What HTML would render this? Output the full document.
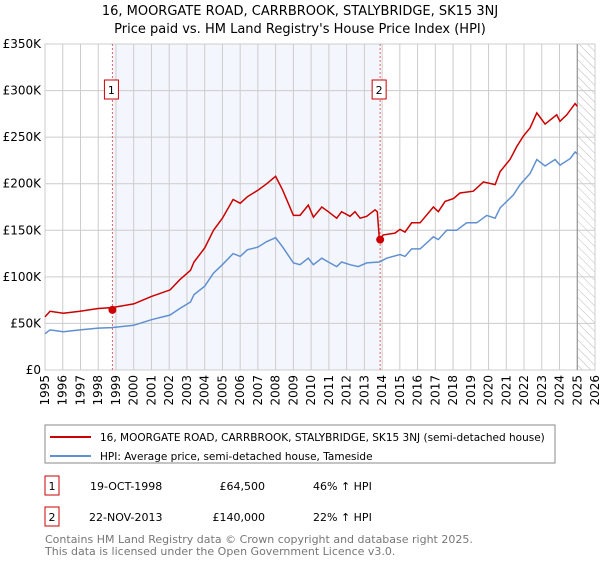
<!DOCTYPE html>
<html><head><meta charset="utf-8"><style>
body{margin:0;background:#fff;font-family:"DejaVu Sans","Liberation Sans",sans-serif;}
svg text{font-family:"DejaVu Sans","Liberation Sans",sans-serif;}
</style></head><body>
<svg id="chart" width="600" height="560" viewBox="0 0 600 560">
<defs><pattern id="hatch" width="6" height="6" patternUnits="userSpaceOnUse" patternTransform="rotate(-45)"><line x1="0" y1="0" x2="0" y2="6" stroke="#bbb" stroke-width="1"/></pattern></defs>
<text x="300" y="15" text-anchor="middle" font-size="13" fill="#000">16, MOORGATE ROAD, CARRBROOK, STALYBRIDGE, SK15 3NJ</text>
<text x="300" y="33" text-anchor="middle" font-size="13" fill="#000">Price paid vs. HM Land Registry's House Price Index (HPI)</text>
<g id="plot"></g>
<rect x="45" y="425" width="510" height="38" fill="#fff" stroke="#888"/>
<line x1="50" y1="437" x2="91" y2="437" stroke="#cc0000" stroke-width="2"/>
<text x="100" y="441" font-size="10.5">16, MOORGATE ROAD, CARRBROOK, STALYBRIDGE, SK15 3NJ (semi-detached house)</text>
<line x1="50" y1="456" x2="91" y2="456" stroke="#6090d0" stroke-width="2"/>
<text x="100" y="460" font-size="10.5">HPI: Average price, semi-detached house, Tameside</text>
<rect x="45" y="476" width="14" height="19" fill="#fff" stroke="#cc0000"/>
<text x="52" y="490" font-size="11" text-anchor="middle">1</text>
<text x="90" y="490" font-size="11">19-OCT-1998</text>
<text x="265" y="490" font-size="11" text-anchor="end">£64,500</text>
<text x="313" y="490" font-size="11">46% ↑ HPI</text>
<rect x="45" y="507" width="14" height="19" fill="#fff" stroke="#cc0000"/>
<text x="52" y="521" font-size="11" text-anchor="middle">2</text>
<text x="89" y="521" font-size="11">22-NOV-2013</text>
<text x="265" y="521" font-size="11" text-anchor="end">£140,000</text>
<text x="313" y="521" font-size="11">22% ↑ HPI</text>
<text x="45" y="543" font-size="11" fill="#777">Contains HM Land Registry data © Crown copyright and database right 2025.</text>
<text x="45" y="555" font-size="11" fill="#777">This data is licensed under the Open Government Licence v3.0.</text>
</svg>
<script>
const priceYears=[1995.0,1995.28,1996.03,1996.97,1998.0,1998.76,2000.0,2001.0,2002.05,2002.6,2003.2,2003.4,2004.0,2004.5,2005.0,2005.6,2006.0,2006.4,2007.0,2007.5,2008.0,2008.4,2009.0,2009.37,2009.84,2010.13,2010.6,2010.97,2011.44,2011.72,2012.19,2012.47,2012.76,2013.13,2013.6,2013.73,2013.85,2014.07,2014.73,2015.01,2015.29,2015.67,2016.14,2016.89,2017.17,2017.55,2018.02,2018.39,2019.14,2019.71,2020.37,2020.65,2021.21,2021.59,2021.96,2022.34,2022.72,2023.19,2023.84,2024.03,2024.41,2024.88,2025.0];
const priceValues=[57,63,61,63,66,67,71,79,86,97,107,116,131,150,163,183,179,186,193,200,208,193,166,166,177,164,175,170,163,170,165,170,163,165,172,170,140,145,147,151,148,158,158,175,170,181,184,190,192,202,199,213,226,240,251,260,276,264,274,267,274,286,283];
const hpiYears=[1995.0,1995.28,1996.03,1996.97,1998.0,1998.76,2000.0,2001.0,2002.05,2002.6,2003.2,2003.4,2004.0,2004.5,2005.0,2005.6,2006.0,2006.4,2007.0,2007.5,2008.0,2008.4,2009.0,2009.37,2009.84,2010.13,2010.6,2010.97,2011.44,2011.72,2012.19,2012.66,2013.13,2013.85,2014.26,2015.01,2015.29,2015.67,2016.14,2016.89,2017.17,2017.64,2018.2,2018.77,2019.33,2019.9,2020.37,2020.65,2021.4,2021.78,2022.34,2022.72,2023.19,2023.75,2024.03,2024.6,2024.88,2025.0];
const hpiValues=[39,43,41,43,45,45.5,48,54,59,66,73,81,90,104,113,125,122,129,132,138,142,132,115,113,120,113,120,116,111,116,113,111,115,116,120,124,122,130,130,143,140,150,150,158,158,166,163,174,188,199,211,226,219,226,220,227,234,232];
const yTicks=[0,50,100,150,200,250,300,350];
const yTickLabels=["£0","£50K","£100K","£150K","£200K","£250K","£300K","£350K"];
const xTickYears=[1995,1996,1997,1998,1999,2000,2001,2002,2003,2004,2005,2006,2007,2008,2009,2010,2011,2012,2013,2014,2015,2016,2017,2018,2019,2020,2021,2022,2023,2024,2025,2026];
const saleYears=[1998.8,2013.89];
const saleValues=[64.5,140];
const saleLabels=["1","2"];
const dataEndYear=2025.0;

const L=45,R=595,T=44,B=370,X0=1995,X1=2026,YMAX=350;
const xs=y=>L+(y-X0)/(X1-X0)*(R-L);
const ys=v=>B-v/YMAX*(B-T);
const NS="http://www.w3.org/2000/svg";
const g=document.getElementById('plot');
function mk(tag,attrs){const e=document.createElementNS(NS,tag);for(const k in attrs)e.setAttribute(k,attrs[k]);g.appendChild(e);return e;}

let e=mk('rect',{x:xs(saleYears[0]),y:T,width:xs(saleYears[1])-xs(saleYears[0]),height:B-T,fill:'#f3f6fd'});


e=mk('rect',{x:xs(dataEndYear),y:T,width:R-xs(dataEndYear),height:B-T,fill:'url(#hatch)'});


yTicks.forEach((v,i)=>{
  let l=mk('line',{x1:L,x2:R,y1:ys(v),y2:ys(v),stroke:'#ccc','stroke-width':1});
  
  
  let t=mk('text',{x:L-4,y:ys(v)+4,'text-anchor':'end','font-size':12});
  t.textContent=yTickLabels[i];
  
  
});
xTickYears.forEach(yr=>{
  let l=mk('line',{x1:xs(yr),x2:xs(yr),y1:T,y2:B,stroke:'#ccc','stroke-width':1});
  
  
  let t=mk('text',{x:0,y:0,'text-anchor':'end','font-size':12,transform:`translate(${xs(yr)+4},${B+5}) rotate(-90)`});
  t.textContent=yr;
  
  
});
e=mk('rect',{x:L,y:T,width:R-L,height:B-T,fill:'none',stroke:'#ccc'});


e=mk('line',{x1:xs(dataEndYear),x2:xs(dataEndYear),y1:T,y2:B,stroke:'#888','stroke-width':1});


saleYears.forEach((yr,i)=>{
  let l=mk('line',{x1:xs(yr),x2:xs(yr),y1:T,y2:B,stroke:'#e06060','stroke-width':1,'stroke-dasharray':'2,2'});
  
  
});
const pts=(xa,va)=>xa.map((y,i)=>xs(y).toFixed(1)+','+ys(va[i]).toFixed(1)).join(' ');
e=mk('polyline',{points:pts(hpiYears,hpiValues),fill:'none',stroke:'#6090d0','stroke-width':1.5});


e=mk('polyline',{points:pts(priceYears,priceValues),fill:'none',stroke:'#cc0000','stroke-width':1.5});


saleYears.forEach((yr,i)=>{
  let c=mk('circle',{cx:xs(yr),cy:ys(saleValues[i]),r:4,fill:'#cc0000'});
  
  
  let r=mk('rect',{x:xs(yr)-8,y:80,width:14,height:19,fill:'#fff',stroke:'#cc0000'});
  
  
  let t=mk('text',{x:xs(yr)-1,y:94,'text-anchor':'middle','font-size':11});
  t.textContent=saleLabels[i];
  
  
});
</script>
</body></html>
